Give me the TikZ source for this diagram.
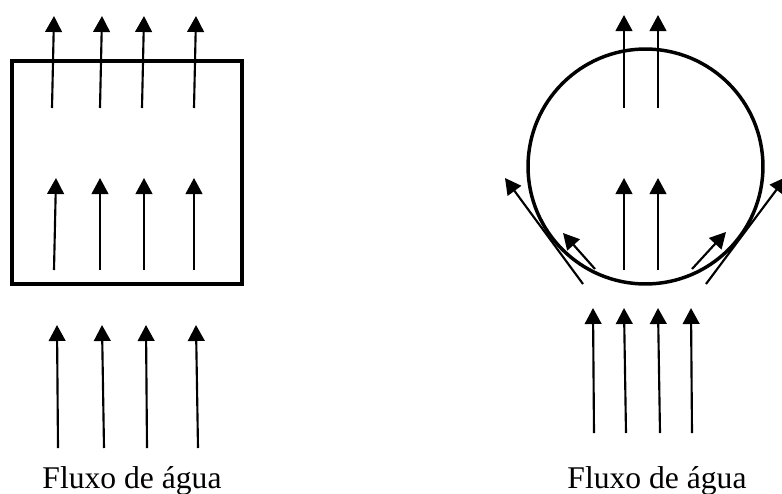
\documentclass[tikz,border=0pt]{standalone}
\usepackage{fontspec}
\setmainfont{Liberation Serif}
\usetikzlibrary{arrows.meta}
\tikzset{
  >={Triangle[length=12pt,width=12.5pt]},
  flow/.style={->,line width=1.6pt},
  wall/.style={draw=black,line width=2.6pt},
  lbl/.style={anchor=base,inner sep=0pt,font=\fontsize{23.7}{28}\selectfont},
}
\begin{document}
\begin{tikzpicture}[x=0.75pt,y=-0.75pt]
  \useasboundingbox (0,0) rectangle (782,493);

  % ---------------- square body
  \draw[wall] (12,61) rectangle (242,284);
  % inflow below
  \draw[flow] (58,448) -- (57,325);
  \draw[flow] (104,448) -- (102,325);
  \draw[flow] (147,448) -- (146,325);
  \draw[flow] (198,448) -- (196,325);
  % inside
  \draw[flow] (54,270) -- (56,178);
  \draw[flow] (100,270) -- (100,178);
  \draw[flow] (144,270) -- (144,178);
  \draw[flow] (194,270) -- (194,178);
  % through the top
  \draw[flow] (52,108) -- (54,16);
  \draw[flow] (100,108) -- (102,16);
  \draw[flow] (142,108) -- (144,16);
  \draw[flow] (194,108) -- (196,16);
  \node[lbl] (lblSq) at (132,488) {Fluxo de água};

  % ---------------- round body
  \draw[wall] (645.5,166.5) circle (88.1pt);
  % inflow below
  \draw[flow] (594,433) -- (593,308);
  \draw[flow] (626,433) -- (624,308);
  \draw[flow] (660,433) -- (658,308);
  \draw[flow] (692,433) -- (691,308);
  % inside
  \draw[flow] (624,270) -- (624,178);
  \draw[flow] (658,270) -- (658,178);
  % through the top
  \draw[flow] (624,108) -- (624,15);
  \draw[flow] (658,108) -- (658,15);
  % deflected along the wall
  \draw[flow] (595,269) -- (563,233);
  \draw[flow] (692,269) -- (726,232);
  \draw[flow] (583,284) -- (505,178);
  \draw[flow] (706,284) -- (786,177);
  \node[lbl] (lblCi) at (657,488) {Fluxo de água};
\end{tikzpicture}
\end{document}
